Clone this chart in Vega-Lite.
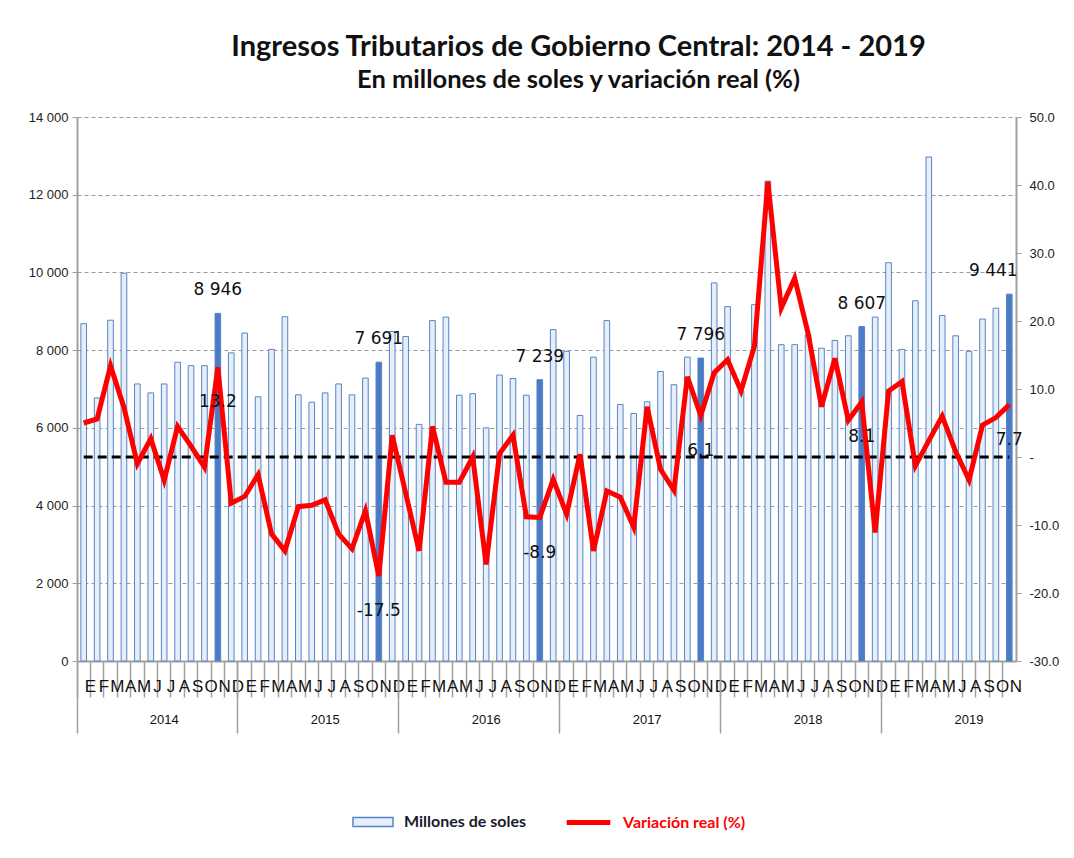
{
  "$schema": "https://vega.github.io/schema/vega-lite/v6.json",
  "width": 939,
  "height": 544,
  "padding": {"left": 28, "top": 32, "right": 4, "bottom": 10},
  "config": {
    "locale": {"number": {"decimal": ".", "thousands": " ", "grouping": [3], "currency": ["", ""], "minus": "-"}},
    "view": {"stroke": null},
    "font": "Liberation Sans"
  },
  "title": {
    "text": "Ingresos Tributarios de Gobierno Central: 2014 - 2019",
    "subtitle": "En millones de soles y variación real (%)",
    "anchor": "middle",
    "dx": 32,
    "font": "Lato",
    "fontSize": 29,
    "fontWeight": "bold",
    "color": "#111111",
    "subtitleFont": "Lato",
    "subtitleFontSize": 25.5,
    "subtitleFontWeight": "bold",
    "subtitleColor": "#111111",
    "subtitlePadding": 6,
    "offset": 18
  },
  "data": {"values": [
    {"periodo": "2014-01 E", "anio": 2014, "millones": 8680, "variacion": 5.0},
    {"periodo": "2014-02 F", "anio": 2014, "millones": 6770, "variacion": 5.6},
    {"periodo": "2014-03 M", "anio": 2014, "millones": 8770, "variacion": 13.4},
    {"periodo": "2014-04 A", "anio": 2014, "millones": 9980, "variacion": 7.3},
    {"periodo": "2014-05 M", "anio": 2014, "millones": 7130, "variacion": -1.0},
    {"periodo": "2014-06 J", "anio": 2014, "millones": 6900, "variacion": 2.7},
    {"periodo": "2014-07 J", "anio": 2014, "millones": 7130, "variacion": -3.4},
    {"periodo": "2014-08 A", "anio": 2014, "millones": 7690, "variacion": 4.5},
    {"periodo": "2014-09 S", "anio": 2014, "millones": 7600, "variacion": 1.6},
    {"periodo": "2014-10 O", "anio": 2014, "millones": 7600, "variacion": -1.5},
    {"periodo": "2014-11 N", "anio": 2014, "millones": 8946, "variacion": 13.2},
    {"periodo": "2014-12 D", "anio": 2014, "millones": 7930, "variacion": -6.8},
    {"periodo": "2015-01 E", "anio": 2015, "millones": 8440, "variacion": -5.8},
    {"periodo": "2015-02 F", "anio": 2015, "millones": 6800, "variacion": -2.6},
    {"periodo": "2015-03 M", "anio": 2015, "millones": 8020, "variacion": -11.3},
    {"periodo": "2015-04 A", "anio": 2015, "millones": 8860, "variacion": -13.8},
    {"periodo": "2015-05 M", "anio": 2015, "millones": 6850, "variacion": -7.3},
    {"periodo": "2015-06 J", "anio": 2015, "millones": 6660, "variacion": -7.1},
    {"periodo": "2015-07 J", "anio": 2015, "millones": 6900, "variacion": -6.3},
    {"periodo": "2015-08 A", "anio": 2015, "millones": 7130, "variacion": -11.3},
    {"periodo": "2015-09 S", "anio": 2015, "millones": 6850, "variacion": -13.5},
    {"periodo": "2015-10 O", "anio": 2015, "millones": 7280, "variacion": -7.9},
    {"periodo": "2015-11 N", "anio": 2015, "millones": 7691, "variacion": -17.5},
    {"periodo": "2015-12 D", "anio": 2015, "millones": 8480, "variacion": 3.2},
    {"periodo": "2016-01 E", "anio": 2016, "millones": 8350, "variacion": -5.3},
    {"periodo": "2016-02 F", "anio": 2016, "millones": 6090, "variacion": -13.8},
    {"periodo": "2016-03 M", "anio": 2016, "millones": 8760, "variacion": 4.5},
    {"periodo": "2016-04 A", "anio": 2016, "millones": 8850, "variacion": -3.7},
    {"periodo": "2016-05 M", "anio": 2016, "millones": 6840, "variacion": -3.7},
    {"periodo": "2016-06 J", "anio": 2016, "millones": 6880, "variacion": 0.0},
    {"periodo": "2016-07 J", "anio": 2016, "millones": 6000, "variacion": -15.8},
    {"periodo": "2016-08 A", "anio": 2016, "millones": 7360, "variacion": 0.5},
    {"periodo": "2016-09 S", "anio": 2016, "millones": 7270, "variacion": 3.2},
    {"periodo": "2016-10 O", "anio": 2016, "millones": 6840, "variacion": -8.8},
    {"periodo": "2016-11 N", "anio": 2016, "millones": 7239, "variacion": -8.9},
    {"periodo": "2016-12 D", "anio": 2016, "millones": 8530, "variacion": -3.3},
    {"periodo": "2017-01 E", "anio": 2017, "millones": 7970, "variacion": -8.4},
    {"periodo": "2017-02 F", "anio": 2017, "millones": 6320, "variacion": 0.4},
    {"periodo": "2017-03 M", "anio": 2017, "millones": 7820, "variacion": -13.8},
    {"periodo": "2017-04 A", "anio": 2017, "millones": 8760, "variacion": -5.0},
    {"periodo": "2017-05 M", "anio": 2017, "millones": 6600, "variacion": -5.9},
    {"periodo": "2017-06 J", "anio": 2017, "millones": 6370, "variacion": -10.3},
    {"periodo": "2017-07 J", "anio": 2017, "millones": 6670, "variacion": 7.4},
    {"periodo": "2017-08 A", "anio": 2017, "millones": 7450, "variacion": -1.8},
    {"periodo": "2017-09 S", "anio": 2017, "millones": 7110, "variacion": -4.9},
    {"periodo": "2017-10 O", "anio": 2017, "millones": 7820, "variacion": 11.8},
    {"periodo": "2017-11 N", "anio": 2017, "millones": 7796, "variacion": 6.1},
    {"periodo": "2017-12 D", "anio": 2017, "millones": 9730, "variacion": 12.4},
    {"periodo": "2018-01 E", "anio": 2018, "millones": 9120, "variacion": 14.3},
    {"periodo": "2018-02 F", "anio": 2018, "millones": 6950, "variacion": 9.7},
    {"periodo": "2018-03 M", "anio": 2018, "millones": 9170, "variacion": 16.3},
    {"periodo": "2018-04 A", "anio": 2018, "millones": 12350, "variacion": 40.5},
    {"periodo": "2018-05 M", "anio": 2018, "millones": 8140, "variacion": 21.9},
    {"periodo": "2018-06 J", "anio": 2018, "millones": 8140, "variacion": 26.3},
    {"periodo": "2018-07 J", "anio": 2018, "millones": 8400, "variacion": 18.2},
    {"periodo": "2018-08 A", "anio": 2018, "millones": 8050, "variacion": 7.4},
    {"periodo": "2018-09 S", "anio": 2018, "millones": 8250, "variacion": 14.5},
    {"periodo": "2018-10 O", "anio": 2018, "millones": 8370, "variacion": 5.4},
    {"periodo": "2018-11 N", "anio": 2018, "millones": 8607, "variacion": 8.1},
    {"periodo": "2018-12 D", "anio": 2018, "millones": 8850, "variacion": -11.1},
    {"periodo": "2019-01 E", "anio": 2019, "millones": 10250, "variacion": 9.7},
    {"periodo": "2019-02 F", "anio": 2019, "millones": 8020, "variacion": 11.1},
    {"periodo": "2019-03 M", "anio": 2019, "millones": 9270, "variacion": -1.3},
    {"periodo": "2019-04 A", "anio": 2019, "millones": 12970, "variacion": 2.4},
    {"periodo": "2019-05 M", "anio": 2019, "millones": 8890, "variacion": 6.0},
    {"periodo": "2019-06 J", "anio": 2019, "millones": 8370, "variacion": 0.8},
    {"periodo": "2019-07 A", "anio": 2019, "millones": 7970, "variacion": -3.4},
    {"periodo": "2019-08 S", "anio": 2019, "millones": 8800, "variacion": 4.7},
    {"periodo": "2019-09 O", "anio": 2019, "millones": 9080, "variacion": 5.8},
    {"periodo": "2019-10 N", "anio": 2019, "millones": 9441, "variacion": 7.7}
  ]},
  "layer": [
    {
      "encoding": {
        "x": {
          "field": "periodo", "type": "ordinal", "sort": "ascending",
          "scale": {"paddingInner": 0, "paddingOuter": 0},
          "axis": {
            "orient": "bottom", "title": null, "bandPosition": 0,
            "labelExpr": "split(datum.value, ' ')[1]",
            "labelAlign": "center", "labelOffset": 6.7, "labelAngle": 0,
            "tickSize": 36, "labelPadding": -19, "labelFontSize": 17,
            "labelColor": "#111111", "tickColor": "#a0a0a0", "tickWidth": 1.5,
            "domainColor": "#a0a0a0", "domainWidth": 2,
            "labelOverlap": false, "labelBound": false, "labelFlush": false, "grid": false
          }
        },
        "y": {
          "field": "millones", "type": "quantitative",
          "scale": {"domain": [0, 14000], "nice": false},
          "axis": {
            "title": null, "values": [0, 2000, 4000, 6000, 8000, 10000, 12000, 14000],
            "format": ",d", "grid": true, "gridDash": [4, 3], "gridColor": "#9a9a9a", "gridWidth": 1,
            "domainColor": "#a0a0a0", "domainWidth": 2, "tickColor": "#a0a0a0", "tickSize": 5,
            "labelFontSize": 13, "labelColor": "#222222", "labelPadding": 4
          }
        }
      },
      "layer": [
        {
          "mark": {"type": "bar", "width": {"band": 0.42}, "stroke": "#5585c8", "strokeWidth": 1},
          "encoding": {
            "fill": {
              "condition": {"test": "split(datum.periodo, ' ')[1] == 'N'", "value": "#4a7bc4"},
              "datum": "Millones de soles",
              "scale": {"range": ["#e6eef8"]},
              "legend": {
                "title": null, "orient": "none", "legendX": 275, "legendY": 684,
                "symbolType": "M-1,-0.22L1,-0.22L1,0.22L-1,0.22Z", "symbolSize": 1600,
                "symbolStrokeColor": "#5585c8", "symbolStrokeWidth": 1.5, "labelOffset": 10,
                "labelFont": "Lato", "labelFontSize": 16, "labelFontWeight": "bold", "labelColor": "#1a1a2e"
              }
            }
          }
        },
        {
          "transform": [{"filter": "split(datum.periodo, ' ')[1] == 'N' && datum.periodo != '2019-10 N'"}],
          "mark": {"type": "text", "baseline": "middle", "align": "center", "dy": -23, "fontSize": 17, "font": "DejaVu Sans", "color": "#111111"},
          "encoding": {"text": {"field": "millones", "type": "quantitative", "format": ",d"}}
        },
        {
          "transform": [{"filter": "datum.periodo == '2019-10 N'"}],
          "mark": {"type": "text", "baseline": "middle", "align": "center", "dy": -23, "dx": -16, "fontSize": 17, "font": "DejaVu Sans", "color": "#111111"},
          "encoding": {"text": {"field": "millones", "type": "quantitative", "format": ",d"}}
        }
      ]
    },
    {
      "encoding": {
        "x": {
          "field": "periodo", "type": "ordinal", "sort": "ascending",
          "axis": {
            "orient": "bottom", "title": null, "bandPosition": 0,
            "values": ["2014-01 E", "2015-01 E", "2016-01 E", "2017-01 E", "2018-01 E", "2019-01 E"],
            "labelExpr": "substring(datum.value, 0, 4)",
            "labelAlign": "center", "labelOffset": 80.5, "labelAngle": 0,
            "tickSize": 72, "labelPadding": -20, "labelFontSize": 13, "labelColor": "#111111",
            "tickColor": "#a0a0a0", "tickWidth": 1.5, "domain": false, "grid": false,
            "labelOverlap": false, "labelBound": false, "labelFlush": false
          }
        },
        "y": {
          "field": "variacion", "type": "quantitative",
          "scale": {"domain": [-30, 50], "nice": false},
          "axis": {
            "orient": "right", "title": null, "values": [-30, -20, -10, 0, 10, 20, 30, 40, 50],
            "labelExpr": "datum.value == 0 ? '-' : format(datum.value, '.1f')",
            "grid": false, "domainColor": "#a0a0a0", "domainWidth": 2, "tickColor": "#a0a0a0", "tickSize": 5,
            "labelFontSize": 13, "labelColor": "#222222", "labelPadding": 8
          }
        }
      },
      "layer": [
        {
          "mark": {"type": "line", "color": "#000000", "strokeWidth": 3, "strokeDash": [9, 5]},
          "encoding": {"y": {"datum": 0, "type": "quantitative"}}
        },
        {
          "mark": {"type": "line", "strokeWidth": 5, "strokeJoin": "miter"},
          "encoding": {
            "stroke": {
              "datum": "Variación real (%)",
              "scale": {"range": ["#ff0000"]},
              "legend": {
                "title": null, "orient": "none", "legendX": 487, "legendY": 681,
                "symbolType": "stroke", "symbolStrokeWidth": 5, "symbolSize": 1900, "labelOffset": 10,
                "labelFont": "Lato", "labelFontSize": 16, "labelFontWeight": "bold", "labelColor": "#ff0000"
              }
            }
          }
        },
        {
          "transform": [{"filter": "split(datum.periodo, ' ')[1] == 'N'"}],
          "mark": {"type": "text", "baseline": "middle", "align": "center", "dy": 35, "fontSize": 17, "font": "DejaVu Sans", "color": "#111111"},
          "encoding": {"text": {"field": "variacion", "type": "quantitative", "format": ".1f"}}
        }
      ]
    }
  ],
  "resolve": {"scale": {"y": "independent", "fill": "independent", "stroke": "independent"}, "axis": {"x": "independent"}}
}
